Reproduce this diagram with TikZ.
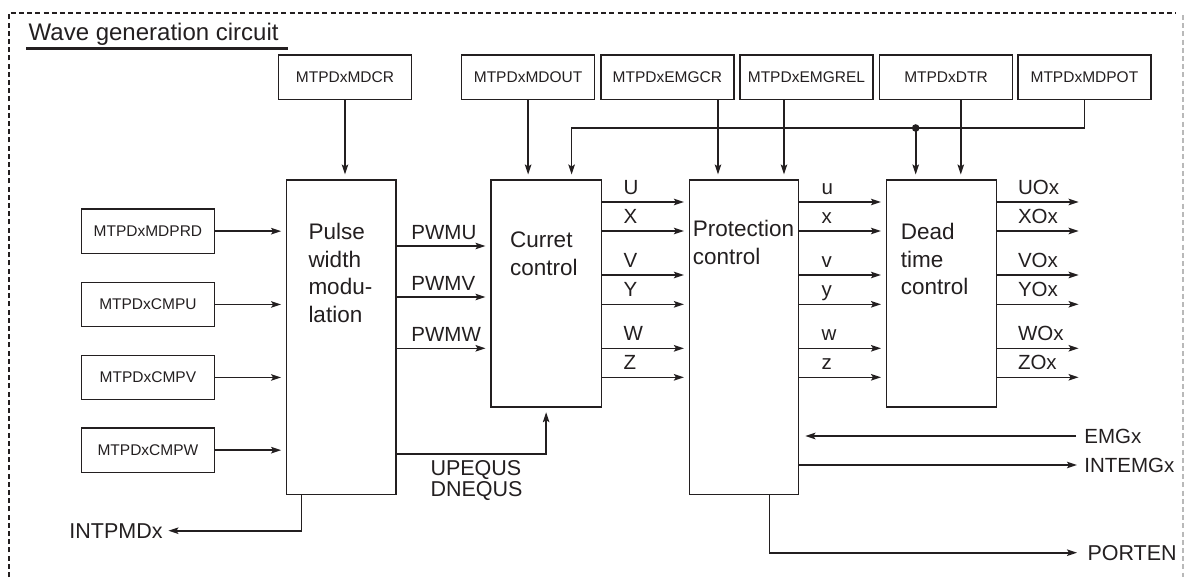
\documentclass[tikz,border=0pt]{standalone}
\usepackage{fontspec}
\setmainfont{Liberation Sans}
\usetikzlibrary{arrows.meta,calc}
\definecolor{ink}{HTML}{231F20}
\begin{document}
\begin{tikzpicture}[x=1pt,y=-1pt,
  every node/.style={text=ink, inner sep=0pt, outer sep=0pt},
  reg/.style={draw=ink, line width=1.5pt, minimum width=132.8pt, minimum height=44.3pt, anchor=north west, font=\fontsize{15.5}{18}\selectfont},
  blk/.style={draw=ink, line width=1.6pt, anchor=north west},
  btxt/.style={anchor=north west, align=left, font=\fontsize{22.5}{27.7}\selectfont},
  sig/.style={font=\fontsize{20.5}{21}\selectfont},
  sigb/.style={font=\fontsize{21.5}{21}\selectfont},
  conn/.style={draw=ink, line width=1.6pt, -{Stealth[length=10pt,width=6.5pt,inset=2pt]}},
  tobox/.style={shorten >=5.5pt}
]
\useasboundingbox (0,0) rectangle (1186,581);

% frame
\draw[ink, line width=1.8pt, dash pattern=on 5pt off 3.2pt] (9,577) -- (9,13) -- (1176,13);
\draw[gray!55, line width=1.4pt, dash pattern=on 5pt off 3.2pt] (1183,15) -- (1183,577);

% title
\node[anchor=base west, font=\fontsize{24}{28}\selectfont] (title) at (28.7,40) {Wave generation circuit};
\draw[ink, line width=2.7pt] (26,48.3) -- (287.5,48.3);

% register boxes (top)
\node[reg] (mdcr)   at (278.6,55) {MTPDxMDCR};
\node[reg] (mdout)  at (461.7,55) {MTPDxMDOUT};
\node[reg] (emgcr)  at (601,55)   {MTPDxEMGCR};
\node[reg] (emgrel) at (740,55)   {MTPDxEMGREL};
\node[reg] (dtr)    at (879.6,55) {MTPDxDTR};
\node[reg] (mdpot)  at (1018,55)  {MTPDxMDPOT};

% register boxes (left)
\node[reg] (mdprd) at (81.5,209)   {MTPDxMDPRD};
\node[reg] (cmpu)  at (81.5,282.3) {MTPDxCMPU};
\node[reg] (cmpv)  at (81.5,355.3) {MTPDxCMPV};
\node[reg] (cmpw)  at (81.5,428)   {MTPDxCMPW};

% main blocks
\node[blk, minimum width=109.5pt, minimum height=314.3pt] (pwm)  at (286.6,180) {};
\node[blk, minimum width=110.3pt, minimum height=226.7pt] (cur)  at (491,180)   {};
\node[blk, minimum width=109pt,   minimum height=314.3pt] (prot) at (689.4,180) {};
\node[blk, minimum width=109.8pt, minimum height=226.7pt] (dead) at (886.5,180) {};

\node[btxt] (pwmt)  at (308.5,223) {Pulse\\width\\modu-\\lation};
\node[btxt] (curt)  at (510,232)   {Curret\\control};
\node[btxt] (prott) at (692.9,220) {Protection\\control};
\node[btxt] (deadt) at (900.8,223) {Dead\\time\\control};

% left inputs
\foreach \b in {mdprd,cmpu,cmpv,cmpw}
  \draw[conn,tobox] (\b.east) -- (\b.east -| pwm.west);

% top inputs
\draw[conn,tobox] (mdcr.south) -- (mdcr.south |- pwm.north);
\draw[conn,tobox] (mdout.south) -- (mdout.south |- cur.north);
\coordinate (xa) at (718,0);
\draw[conn,tobox] (emgcr.south -| xa) -- (prot.north -| xa);
\coordinate (xb) at (784,0);
\draw[conn,tobox] (emgrel.south -| xb) -- (prot.north -| xb);
\coordinate (xc) at (960.8,0);
\draw[conn,tobox] (dtr.south -| xc) -- (dead.north -| xc);
\coordinate (bus) at (571.6,128);
\draw[conn,tobox] (mdpot.south) |- (bus) -- (bus |- cur.north);
\coordinate (dot) at (915.7,128);
\fill[ink] (dot) circle[radius=3.8];
\draw[conn,tobox] (dot) -- (dot |- dead.north);

% PWM outputs
\foreach \yy/\L [count=\i] in {246/PWMU, 297/PWMV, 348.3/PWMW} {
  \coordinate (p\i) at (0,\yy);
  \draw[conn,tobox] (pwm.east |- p\i) -- (cur.west |- p\i);
  \node[sig, anchor=base west] (pl\i) at (411.4,\yy-7) {\L};
}

% UPEQUS / DNEQUS
\coordinate (uq) at (0,453.7);
\draw[conn,tobox] (pwm.east |- uq) -| (cur.south);
\node[sigb, anchor=base west] (upeq) at (430.5,475) {UPEQUS};
\node[sigb, anchor=base west] (dneq) at (430.5,496) {DNEQUS};

% INTPMDx
\node[sigb, anchor=east] (intpmd) at (162.6,530.7) {INTPMDx};
\coordinate (ix) at (301.6,0);
\draw[conn, shorten >=5.8pt] (pwm.south -| ix) |- (intpmd.east);

% phase signals
\foreach \yy/\A/\a/\O [count=\i] in {202/U/u/UOx, 231/X/x/XOx, 275/V/v/VOx, 304.3/Y/y/YOx, 348.3/W/w/WOx, 377.3/Z/z/ZOx} {
  \coordinate (r\i) at (0,\yy);
  \draw[conn,tobox] (cur.east |- r\i) -- (prot.west |- r\i);
  \draw[conn,tobox] (prot.east |- r\i) -- (dead.west |- r\i);
  \coordinate (o\i) at (1078.6,\yy);
  \draw[conn] (dead.east |- r\i) -- (o\i);
  \node[sig, anchor=base west] (cap\i) at (623.5,\yy-7.5) {\A};
  \node[sig, anchor=base west] (low\i) at (821.6,\yy-7.5) {\a};
  \node[sig, anchor=base west] (out\i) at (1018,\yy-7.5) {\O};
}

% protection side signals
\node[sig, anchor=west] (emg) at (1084.4,436) {EMGx};
\draw[conn, shorten <=8.4pt, shorten >=7pt] (emg.west) -- (prot.east |- emg.west);
\node[sig, anchor=west] (intemg) at (1084.4,465) {INTEMGx};
\draw[conn, shorten >=7.4pt] (prot.east |- intemg.west) -- (intemg.west);
\node[sigb, anchor=west] (porten) at (1087.5,552.7) {PORTEN};
\coordinate (px) at (769.4,0);
\draw[conn, shorten >=10.5pt] (prot.south -| px) |- (porten.west);

\end{tikzpicture}
\end{document}
